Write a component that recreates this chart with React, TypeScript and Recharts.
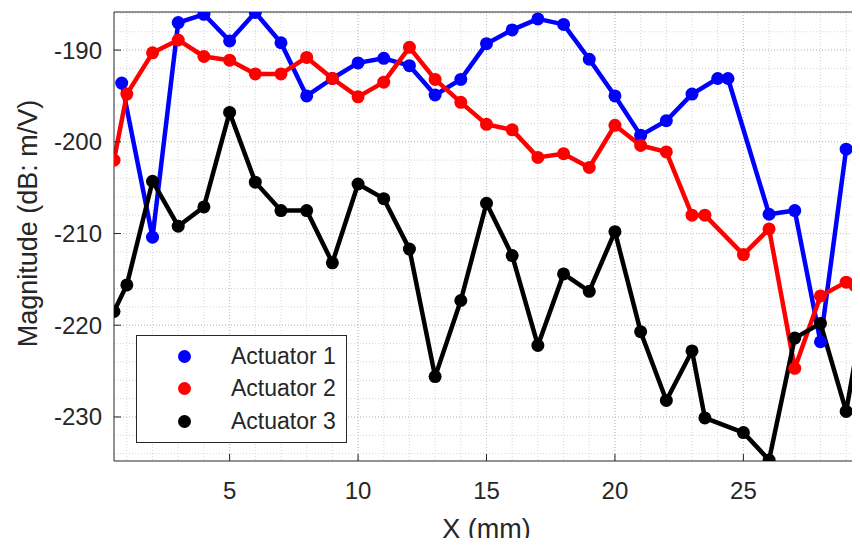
import { LineChart, Line, XAxis, YAxis, CartesianGrid, Legend } from 'recharts';

const AXIS = '#262626';
const FONT = '"Liberation Sans", Arial, sans-serif';

const X_TICKS = [5, 10, 15, 20, 25];
const Y_TICKS = [-230, -220, -210, -200, -190];
const X_DOMAIN = [0.5, 29.5];
const Y_DOMAIN = [-234.8, -185.85];

// minor grid (MATLAB style)
const X_MINOR = Array.from({ length: 29 }, (_, i) => i + 1);
const Y_MINOR = Array.from({ length: 25 }, (_, i) => -234 + i * 2);

const act1X = [0.8, 2, 3, 4, 5, 6, 7, 8, 9, 10, 11, 12, 13, 14, 15, 16, 17, 18, 19, 20, 21, 22, 23, 24, 24.4, 26, 27, 28, 29];
const act1Y = [-193.6, -210.4, -187.0, -186.1, -189.0, -185.9, -189.2, -195.0, -193.1, -191.4, -190.9, -191.7, -194.9, -193.2, -189.3, -187.8, -186.6, -187.2, -191.0, -195.0, -199.3, -197.7, -194.8, -193.1, -193.1, -207.9, -207.5, -221.8, -200.8];

const act23X = [0.5, 1, 2, 3, 4, 5, 6, 7, 8, 9, 10, 11, 12, 13, 14, 15, 16, 17, 18, 19, 20, 21, 22, 23, 23.5, 25, 26, 27, 28, 29, 29.5];
const act2Y = [-202.0, -194.8, -190.3, -188.9, -190.7, -191.1, -192.6, -192.6, -190.8, -193.1, -195.1, -193.5, -189.7, -193.2, -195.7, -198.1, -198.7, -201.7, -201.3, -202.8, -198.2, -200.4, -201.1, -208.0, -208.0, -212.3, -209.5, -224.7, -216.8, -215.3, -216.8];
const act3Y = [-218.5, -215.6, -204.3, -209.2, -207.1, -196.8, -204.4, -207.5, -207.5, -213.2, -204.6, -206.2, -211.7, -225.6, -217.3, -206.7, -212.4, -222.2, -214.4, -216.3, -209.8, -220.7, -228.2, -222.8, -230.1, -231.7, -234.7, -221.4, -219.8, -229.4, -221.4];

const toPoints = (xs: number[], ys: number[]) => xs.map((x, i) => ({ x, y: ys[i] }));

const series = [
  { name: 'Actuator 1', color: '#0000ff', data: toPoints(act1X, act1Y) },
  { name: 'Actuator 2', color: '#ff0000', data: toPoints(act23X, act2Y) },
  { name: 'Actuator 3', color: '#000000', data: toPoints(act23X, act3Y) },
];

const XTick = ({ x, y, payload }: any) => (
  <g>
    <line x1={x} y1={y} x2={x} y2={y - 7} stroke={AXIS} />
    <text x={x} y={y + 38} textAnchor="middle" fill={AXIS} fontSize={24} fontFamily={FONT}>
      {payload.value}
    </text>
  </g>
);

const YTick = ({ x, y, payload }: any) => (
  <g>
    <line x1={x} y1={y} x2={x + 7} y2={y} stroke={AXIS} />
    <text x={x - 12} y={y + 8.5} textAnchor="end" fill={AXIS} fontSize={24} fontFamily={FONT}>
      {payload.value}
    </text>
  </g>
);

const YLabel = ({ viewBox }: any) => {
  const cx = viewBox.x + 20;
  const cy = viewBox.y + viewBox.height / 2 - 13;
  return (
    <text
      x={cx}
      y={cy}
      transform={`rotate(-90 ${cx} ${cy})`}
      textAnchor="middle"
      dominantBaseline="central"
      fill={AXIS}
      fontSize={27}
      fontFamily={FONT}
    >
      Magnitude (dB: m/V)
    </text>
  );
};

const LegendBox = () => (
  <div
    style={{
      border: `1px solid ${AXIS}`,
      background: '#fff',
      padding: '4px 0',
      fontFamily: FONT,
      fontSize: 23,
      color: AXIS,
    }}
  >
    {series.map((s) => (
      <div key={s.name} style={{ display: 'flex', alignItems: 'center', height: 32.5 }}>
        <span
          style={{
            display: 'inline-block',
            width: 13,
            height: 13,
            borderRadius: '50%',
            background: s.color,
            marginLeft: 41,
            marginRight: 40,
          }}
        />
        <span>{s.name}</span>
      </div>
    ))}
  </div>
);

export default function App() {
  return (
    <div style={{ marginBottom: -8 }}>
      <LineChart width={852} height={538} margin={{ top: 4, right: 1, left: 0, bottom: 8 }}>
        <CartesianGrid
          verticalValues={X_MINOR}
          horizontalValues={Y_MINOR}
          stroke="#d6d6d6"
          strokeDasharray="1 2"
        />
        <CartesianGrid
          verticalValues={X_TICKS}
          horizontalValues={Y_TICKS}
          stroke="#c0c0c0"
          strokeDasharray="1 2"
        />
        <XAxis
          dataKey="x"
          type="number"
          domain={X_DOMAIN}
          allowDataOverflow
          ticks={X_TICKS}
          interval={0}
          tickSize={0}
          tickMargin={0}
          tick={<XTick />}
          height={77}
          stroke={AXIS}
          label={{
            value: 'X (mm)',
            position: 'insideBottom',
            offset: 0,
            fill: AXIS,
            fontSize: 27,
            fontFamily: FONT,
          }}
        />
        <XAxis
          xAxisId="top"
          orientation="top"
          type="number"
          domain={X_DOMAIN}
          allowDataOverflow
          ticks={X_TICKS}
          interval={0}
          mirror
          tick={false}
          tickSize={7}
          height={1}
          stroke={AXIS}
        />
        <YAxis
          type="number"
          domain={Y_DOMAIN}
          allowDataOverflow
          ticks={Y_TICKS}
          interval={0}
          tickSize={0}
          tickMargin={0}
          tick={<YTick />}
          width={106}
          stroke={AXIS}
          label={<YLabel />}
        />
        <YAxis
          yAxisId="right"
          orientation="right"
          type="number"
          domain={Y_DOMAIN}
          allowDataOverflow
          ticks={Y_TICKS}
          interval={0}
          mirror
          tick={false}
          tickSize={7}
          width={1}
          stroke={AXIS}
        />
        {series.map((s) => (
          <Line
            key={s.name}
            data={s.data}
            dataKey="y"
            name={s.name}
            stroke={s.color}
            strokeWidth={4.5}
            strokeLinejoin="round"
            dot={{ r: 6.5, fill: s.color, stroke: s.color, strokeWidth: 0 }}
            activeDot={false}
            isAnimationActive={false}
          />
        ))}
        <Legend
          layout="vertical"
          align="center"
          verticalAlign="middle"
          content={<LegendBox />}
          wrapperStyle={{ left: 128, top: 327, width: 211, height: 'auto' }}
        />
      </LineChart>
    </div>
  );
}
